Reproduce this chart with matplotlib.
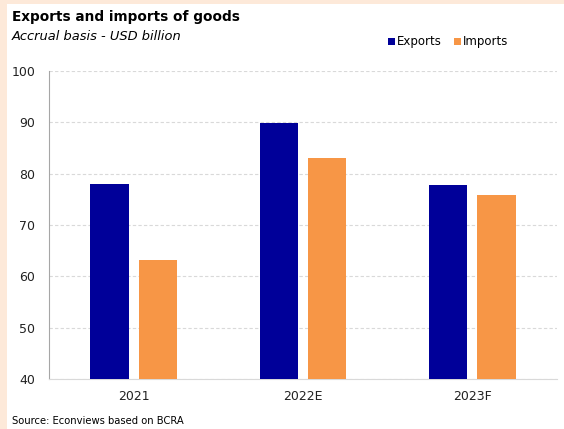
import matplotlib.pyplot as plt
import numpy as np
from matplotlib.patches import Rectangle

years = ["2021", "2022E", "2023F"]
exports = [78.0, 89.8, 77.8]
imports = [63.2, 83.0, 75.9]

W, H = 564, 429
fig = plt.figure(figsize=(W / 100, H / 100), dpi=100)
fig.patch.set_facecolor("#FDE9D9")
# white panel over peach border (left + top)
fig.patches.append(Rectangle((7 / W, 0), 1 - 7 / W, 1 - 4 / H, transform=fig.transFigure,
                             facecolor="white", edgecolor="none", zorder=-1))

ax = fig.add_axes([49 / W, 1 - 379 / H, (557 - 49) / W, (379 - 71) / H])
ax.set_facecolor("white")
ax.set_zorder(2)

x = np.arange(len(years))
w = 0.225
ax.bar(x - 0.143, exports, w, color="#000099", label="Exports", zorder=3)
ax.bar(x + 0.143, imports, w, color="#F79646", label="Imports", zorder=3)

ax.set_xlim(-0.5, 2.5)
ax.set_ylim(40, 100)
ax.set_yticks(range(40, 101, 10))
ax.set_xticks(x)
ax.set_xticklabels(years)
ax.tick_params(axis="both", labelsize=9, length=0, colors="#222222")
ax.tick_params(axis="y", pad=10)
ax.tick_params(axis="x", pad=8)
ax.grid(axis="y", color="#D9D9D9", linestyle=(0, (3, 2)), linewidth=0.8, zorder=0)
for s in ["top", "right"]:
    ax.spines[s].set_visible(False)
ax.spines["left"].set_color("#A6A6A6")
ax.spines["bottom"].set_color("#D9D9D9")

fig.text(12 / W, 1 - 17 / H, "Exports and imports of goods", fontsize=9.8,
         fontweight="bold", va="center", ha="left")
fig.text(12 / W, 1 - 36 / H, "Accrual basis - USD billion", fontsize=9.4,
         style="italic", va="center", ha="left")
fig.text(12 / W, 1 - 421 / H, "Source: Econviews based on BCRA", fontsize=7.2,
         va="center", ha="left")

fig.legend(loc="center", bbox_to_anchor=(448 / W, 1 - 42 / H), ncol=2, frameon=False,
           fontsize=8.5, handlelength=0.6, handleheight=0.6, handletextpad=0.2,
           columnspacing=1.0)

fig.savefig("out.png", dpi=100, facecolor=fig.get_facecolor())
